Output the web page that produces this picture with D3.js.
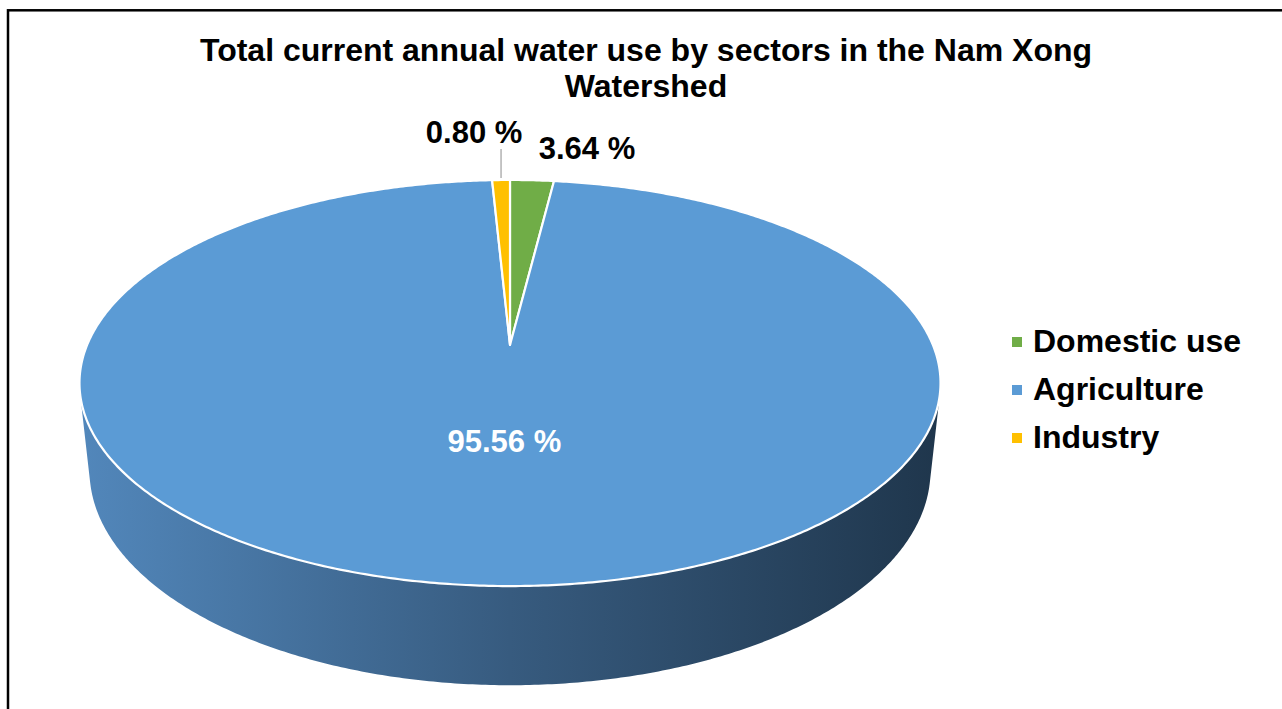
<!DOCTYPE html>
<html>
<head>
<meta charset="utf-8">
<script src="https://cdn.jsdelivr.net/npm/d3@7"></script>
<style>
  body { margin: 0; background: #fff; }
  svg { display: block; font-family: "Liberation Sans", Arial, sans-serif; }
</style>
</head>
<body>
<div id="chart"></div>
<script>
var sectors = ["Domestic use", "Agriculture", "Industry"];
// percentages printed on the data labels
var labelPct = [3.64, 95.56, 0.80];
// wedge sizes as drawn in the picture (the green wedge is narrower than its label says)
var wedgePct = [1.97, 97.23, 0.80];
var titleLines = ["Total current annual water use by sectors in the Nam Xong", "Watershed"];

var colors = ["#70ad47", "#5b9bd5", "#ffc000"];

var width = 1282, height = 709;

var svg = d3.select("#chart")
  .append("svg")
    .attr("width", width)
    .attr("height", height);

// side wall gradient (light on the left, dark on the right)
var grad = svg.append("defs").append("linearGradient")
    .attr("id", "wall")
    .attr("gradientUnits", "userSpaceOnUse")
    .attr("x1", 80).attr("x2", 940).attr("y1", 0).attr("y2", 0);
grad.append("stop").attr("offset", "0%").attr("stop-color", "#5287bb");
grad.append("stop").attr("offset", "50%").attr("stop-color", "#375b7f");
grad.append("stop").attr("offset", "100%").attr("stop-color", "#1f364c");

// simple perspective camera for the 3d pie
var cx = 510, cy = 345;           // where the pie centre lands on screen
var tilt = 27.6 * Math.PI / 180,
    dist = 4.733,
    focal = 2001.6,
    depth = 0.236;

function project(r, a, z) {
  var X = r * Math.sin(a), Y = r * Math.cos(a);
  var d = dist + Y * Math.cos(tilt) - z * Math.sin(tilt);
  var yc = Y * Math.sin(tilt) + z * Math.cos(tilt);
  return [cx + focal * X / d, cy - focal * yc / d];
}

function rim(a0, a1, z) {
  var pts = [];
  var n = Math.max(2, Math.ceil((a1 - a0) / (0.5 * Math.PI / 180)));
  for (var i = 0; i <= n; i++) {
    pts.push(project(1, a0 + (a1 - a0) * i / n, z));
  }
  return pts;
}

var data = sectors.map(function(s, i) {
  return {name: s, value: wedgePct[i], label: labelPct[i].toFixed(2) + " %", color: colors[i]};
});

var arcs = d3.pie()
  .sort(null)
  .value(function(d) { return d.value; })
  (data);

var line = d3.line();

// visible part of the cylinder wall
var c = 1 / (dist * Math.cos(tilt));
var vis0 = Math.acos(-c), vis1 = 2 * Math.PI - Math.acos(-c);

svg.append("g")
  .selectAll("path")
  .data(arcs.filter(function(d) { return d.endAngle > vis0 && d.startAngle < vis1; }))
  .enter()
  .append("path")
    .attr("d", function(d) {
      var s = Math.max(d.startAngle, vis0), e = Math.min(d.endAngle, vis1);
      var top = rim(s, e, 0);
      var bottom = rim(s, e, -depth).reverse();
      return line(top.concat(bottom)) + "Z";
    })
    .style("fill", "url(#wall)");

// top faces
svg.append("g")
  .selectAll("path")
  .data(arcs)
  .enter()
  .append("path")
    .attr("d", function(d) {
      var pts = [project(0, 0, 0)].concat(rim(d.startAngle, d.endAngle, 0));
      return line(pts) + "Z";
    })
    .style("fill", function(d) { return d.data.color; })
    .style("stroke", "white")
    .style("stroke-width", 2.2)
    .style("stroke-linejoin", "round");

// data labels
var outside = {0: {dx: 55, dy: -21, leader: false}, 2: {dx: -27, dy: -37, leader: true}};

arcs.forEach(function(d, i) {
  var mid = (d.startAngle + d.endAngle) / 2;
  if (outside[i]) {
    var p = project(1, mid, 0);
    var o = outside[i];
    if (o.leader) {
      svg.append("line")
        .attr("x1", p[0]).attr("x2", p[0])
        .attr("y1", p[1] - 2).attr("y2", p[1] + o.dy + 6)
        .style("stroke", "#a6a6a6")
        .style("stroke-width", 1.3);
    }
    svg.append("text")
      .attr("x", p[0] + o.dx)
      .attr("y", p[1] + o.dy)
      .attr("text-anchor", "middle")
      .attr("font-size", "31px")
      .attr("font-weight", "bold")
      .attr("fill", "black")
      .text(d.data.label);
  } else {
    var q = project(0.45, mid, 0);
    svg.append("text")
      .attr("x", q[0] + 2)
      .attr("y", q[1])
      .attr("dy", "0.36em")
      .attr("text-anchor", "middle")
      .attr("font-size", "31px")
      .attr("font-weight", "bold")
      .attr("fill", "white")
      .text(d.data.label);
  }
});

// title
svg.append("g")
  .selectAll("text")
  .data(titleLines)
  .enter()
  .append("text")
    .attr("x", 646)
    .attr("y", function(d, i) { return 61 + i * 36; })
    .attr("text-anchor", "middle")
    .attr("font-size", "32px")
    .attr("font-weight", "bold")
    .text(function(d) { return d; });

// legend
var legend = svg.append("g")
  .selectAll("g")
  .data(data)
  .enter()
  .append("g")
    .attr("transform", function(d, i) { return "translate(1012," + (352 + i * 48) + ")"; });

legend.append("rect")
  .attr("x", 0).attr("y", -15)
  .attr("width", 10).attr("height", 10)
  .style("fill", function(d) { return d.color; });

legend.append("text")
  .attr("x", 21)
  .attr("y", 0)
  .attr("font-size", "32px")
  .attr("font-weight", "bold")
  .text(function(d) { return d.name; });

// outer frame (runs past the right and bottom edges)
svg.append("rect")
  .attr("x", 8).attr("y", 10.3)
  .attr("width", 1400).attr("height", 900)
  .style("fill", "none")
  .style("stroke", "black")
  .style("stroke-width", 2.5);
</script>
</body>
</html>
